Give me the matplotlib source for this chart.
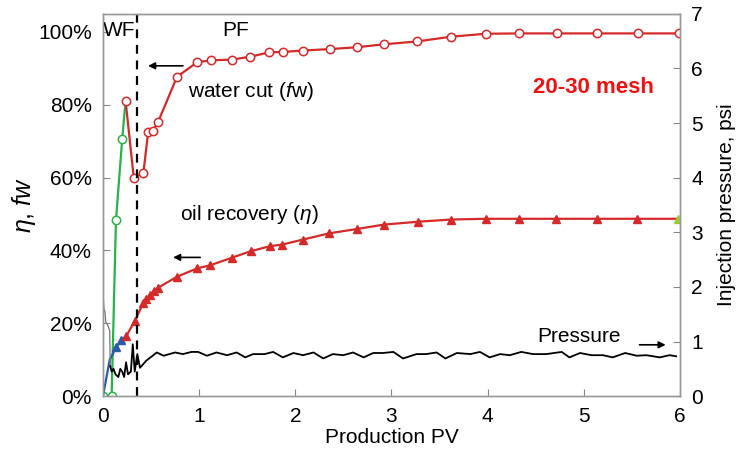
import matplotlib
matplotlib.use("Agg")
import matplotlib.pyplot as plt
from matplotlib.ticker import PercentFormatter

plt.rcParams['font.family'] = ['Liberation Sans', 'DejaVu Sans']
plt.rcParams['mathtext.fontset'] = 'custom'
plt.rcParams['mathtext.rm'] = 'Liberation Sans'
plt.rcParams['mathtext.it'] = 'Liberation Sans:italic'

# water flooding stage (WF): water cut
wf_pv = [0.0, 0.09, 0.135, 0.20, 0.235]
wf_fw = [0.0, 0.0, 0.483, 0.706, 0.811]

# polymer flooding stage (PF): water cut
pf_pv = [0.235, 0.32, 0.42, 0.47, 0.52, 0.575, 0.77, 0.98, 1.12, 1.34, 1.53,
         1.73, 1.87, 2.08, 2.36, 2.64, 2.92, 3.27, 3.62, 3.98, 4.33, 4.72,
         5.14, 5.56, 5.99]
pf_fw = [0.811, 0.600, 0.613, 0.725, 0.729, 0.754, 0.877, 0.917, 0.922, 0.924,
         0.932, 0.944, 0.945, 0.949, 0.953, 0.958, 0.966, 0.974, 0.987, 0.995,
         0.996, 0.996, 0.996, 0.996, 0.996]

# oil recovery, WF
wf_rec_pv = [0.0, 0.07, 0.14, 0.19, 0.24]
wf_rec = [0.0, 0.100, 0.135, 0.155, 0.164]

# oil recovery, PF
pf_rec_pv = [0.24, 0.33, 0.42, 0.45, 0.49, 0.53, 0.575, 0.77, 0.98, 1.11, 1.34,
             1.535, 1.74, 1.86, 2.08, 2.35, 2.64, 2.92, 3.28, 3.62, 3.98, 4.33,
             4.71, 5.14, 5.55, 5.98]
pf_rec = [0.164, 0.206, 0.256, 0.267, 0.279, 0.288, 0.298, 0.328, 0.351, 0.359,
          0.380, 0.398, 0.412, 0.416, 0.430, 0.447, 0.459, 0.471, 0.479, 0.485,
          0.487, 0.487, 0.487, 0.487, 0.487, 0.487]

# injection pressure (psi)
pressure_pv = [0.0, 0.005, 0.01, 0.02, 0.03, 0.05, 0.07, 0.075, 0.09, 0.11, 0.13,
               0.16, 0.18, 0.20, 0.22, 0.24, 0.26, 0.29, 0.31, 0.33, 0.357, 0.385,
               0.45, 0.56, 0.63, 0.75, 0.83, 0.92, 0.99, 1.08, 1.18, 1.29, 1.39,
               1.48, 1.56, 1.68, 1.77, 1.87, 1.98, 2.08, 2.19, 2.29, 2.39, 2.50,
               2.60, 2.71, 2.81, 2.91, 3.02, 3.12, 3.26, 3.36, 3.47, 3.56, 3.68,
               3.82, 3.92, 4.02, 4.13, 4.23, 4.35, 4.47, 4.61, 4.77, 4.85, 4.96,
               5.08, 5.20, 5.30, 5.43, 5.55, 5.65, 5.79, 5.89, 5.96]
pressure_psi = [2.08, 1.75, 1.60, 1.55, 1.35, 1.30, 1.20, 0.55, 0.45, 0.50, 0.40,
                0.35, 0.50, 0.45, 0.35, 0.62, 0.40, 0.45, 0.95, 0.45, 0.77, 0.52,
                0.65, 0.80, 0.74, 0.80, 0.77, 0.81, 0.81, 0.74, 0.80, 0.75, 0.80,
                0.71, 0.77, 0.77, 0.81, 0.71, 0.79, 0.75, 0.80, 0.69, 0.77, 0.75,
                0.80, 0.71, 0.79, 0.79, 0.81, 0.69, 0.77, 0.77, 0.80, 0.69, 0.79,
                0.77, 0.81, 0.71, 0.77, 0.75, 0.81, 0.77, 0.77, 0.81, 0.71, 0.79,
                0.75, 0.75, 0.71, 0.79, 0.74, 0.75, 0.71, 0.75, 0.73]
n_early = 7  # first few readings drawn in grey

switch_pv = 0.35

red = '#d42a2a'
green = '#27b24a'
blue = '#2d5aa8'
fs = 15

fig = plt.figure(figsize=(7.43, 4.58), dpi=100)
ax = fig.add_axes([0.1386, 0.135, 0.7766, 0.835])
ax2 = ax.twinx()

# pressure on the right axis
ax2.plot(pressure_pv[:n_early + 1], pressure_psi[:n_early + 1], color='#777777', lw=0.9)
ax2.plot(pressure_pv[n_early:], pressure_psi[n_early:], color='black', lw=1.3)

ax.plot(wf_pv, wf_fw, color=green, lw=1.6, marker='o', ms=6, mfc='white',
        mec=green, mew=1.1, markevery=[0, 1, 2, 3])
ax.plot(pf_pv, pf_fw, color=red, lw=1.6, marker='o', ms=6, mfc='white',
        mec=red, mew=1.1)
ax.plot(wf_rec_pv, wf_rec, color=blue, lw=1.6, marker='^', ms=5.5, mfc=blue,
        mec=blue, markevery=[2, 3])
ax.plot(pf_rec_pv, pf_rec, color=red, lw=1.6, marker='^', ms=6, mfc=red,
        mec=red, markevery=list(range(len(pf_rec_pv) - 1)))
ax.plot(pf_rec_pv[-1:], pf_rec[-1:], ls='none', marker='^', ms=6,
        color='#9acd32')

ax.axvline(switch_pv, color='black', ls=(0, (4, 3)), lw=1.6)

ax.set_xlim(0, 6)
ax.set_ylim(0, 1.05)
ax2.set_ylim(0, 7)
ax.set_xticks(range(7))
ax.set_yticks([0, 0.2, 0.4, 0.6, 0.8, 1.0])
ax.yaxis.set_major_formatter(PercentFormatter(1.0, decimals=0))
ax2.set_yticks(range(8))

for a in (ax, ax2):
    a.tick_params(direction='in', length=5, width=0.8, color='#888888',
                  labelsize=fs, pad=8)
    for s in a.spines.values():
        s.set_color('#999999')
        s.set_linewidth(1.0)

ax.set_xlabel('Production PV', fontsize=fs, labelpad=1)
ax.set_ylabel(r'$\mathit{\eta}$, $\mathit{fw}$', fontsize=18, labelpad=0)
ax2.set_ylabel('Injection pressure, psi', fontsize=fs, labelpad=10)

ax.text(0.0, 1.005, 'WF', fontsize=fs, va='center', ha='left')
ax.text(1.38, 1.005, 'PF', fontsize=fs, va='center', ha='center')
ax.text(0.88, 0.836, r'water cut ($\mathit{f}$w)', fontsize=fs, va='center')
ax.text(0.80, 0.499, r'oil recovery ($\mathit{\eta}$)', fontsize=fs, va='center')
ax.text(5.10, 0.847, '20-30 mesh', fontsize=16, color='#ee1111',
        fontweight='bold', ha='center', va='center')
ax2.text(4.52, 1.10, 'Pressure', fontsize=fs, va='center')

arrow = dict(arrowstyle='-|>', color='black', lw=1.2, mutation_scale=10)
ax.annotate('', xy=(0.44, 0.907), xytext=(0.86, 0.907), arrowprops=arrow)
ax.annotate('', xy=(0.70, 0.381), xytext=(1.04, 0.381), arrowprops=arrow)
ax2.annotate('', xy=(5.88, 0.94), xytext=(5.55, 0.94), arrowprops=arrow)

fig.savefig('out.png', dpi=100)
